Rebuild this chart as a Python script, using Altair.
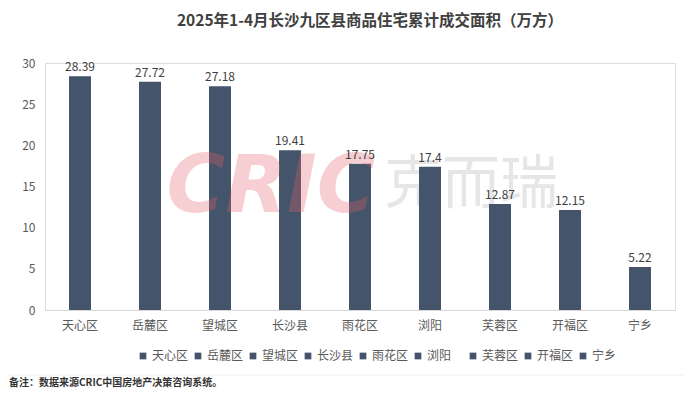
import altair as alt
import pandas as pd

categories = ["天心区", "岳麓区", "望城区", "长沙县", "雨花区", "浏阳", "芙蓉区", "开福区", "宁乡"]
values = [28.39, 27.72, 27.18, 19.41, 17.75, 17.4, 12.87, 12.15, 5.22]
labels = ["28.39", "27.72", "27.18", "19.41", "17.75", "17.4", "12.87", "12.15", "5.22"]
y_ticks = [0, 5, 10, 15, 20, 25, 30]

FONT = "Noto Sans CJK SC"
BAR = "#44546a"

df = pd.DataFrame({"区县": categories, "面积": values, "标签": labels})

base = alt.Chart(df)

bars = base.mark_bar(size=22).encode(
    x=alt.X("区县:N", sort=categories,
            scale=alt.Scale(paddingInner=0.0, paddingOuter=0.0),
            axis=alt.Axis(title=None, labelAngle=0, labelFont=FONT, labelFontSize=12,
                          labelColor="#595959", ticks=False, domainColor="#d9d9d9",
                          labelPadding=10)),
    y=alt.Y("面积:Q", scale=alt.Scale(domain=[0, 30], nice=False),
            axis=alt.Axis(title=None, values=y_ticks, grid=False, domain=False, ticks=False,
                          labelFont=FONT, labelFontSize=12, labelColor="#595959",
                          labelPadding=10)),
    color=alt.Color("区县:N", sort=categories,
                    scale=alt.Scale(domain=categories, range=[BAR] * len(categories)),
                    legend=alt.Legend(title=None, orient="none", legendX=92, legendY=287,
                                      direction="horizontal", columns=9, symbolType="square",
                                      symbolSize=45, labelFont=FONT, labelFontSize=12,
                                      labelColor="#595959", gridAlign="all",
                                      columnPadding=3, labelOffset=3)),
)

texts = base.mark_text(dy=-9, font=FONT, fontSize=12, color="#404040").encode(
    x=alt.X("区县:N", sort=categories),
    y="面积:Q",
    text="标签:N",
)

wm = pd.DataFrame({"a": [1]})
wm1 = alt.Chart(wm).mark_text(text="CRIC", font="DejaVu Sans", fontSize=80, fontWeight="bold",
                              fontStyle="italic", color="#e8606a", opacity=0.3).encode(
    x=alt.value(226), y=alt.value(125))
wm2 = alt.Chart(wm).mark_text(text="克而瑞", font=FONT, fontSize=58, color="#e6e6e6").encode(
    x=alt.value(426), y=alt.value(123))

sep = alt.Chart(wm).mark_rule(color="#eeeeee", strokeWidth=1).encode(
    x=alt.value(-37), x2=alt.value(639), y=alt.value(312))
note = alt.Chart(wm).mark_text(text="备注：数据来源CRIC中国房地产决策咨询系统。", font=FONT,
                               fontSize=10, fontWeight="bold", color="#333333",
                               align="left").encode(
    x=alt.value(-36), y=alt.value(320))

chart = alt.layer(wm2, bars, wm1, texts, sep, note).properties(
    width=630, height=247,
    title=alt.TitleParams("2025年1-4月长沙九区县商品住宅累计成交面积（万方）", font=FONT,
                          fontSize=15.5, fontWeight="bold", color="#404040", anchor="middle",
                          dx=10, offset=28),
    autosize=alt.AutoSizeParams(type="none"),
    padding={"left": 37, "top": 55, "right": 9, "bottom": 78},
).configure_view(stroke=None).configure(background="white")

chart.save("out.html", embed_options={"renderer": "svg", "actions": False})
